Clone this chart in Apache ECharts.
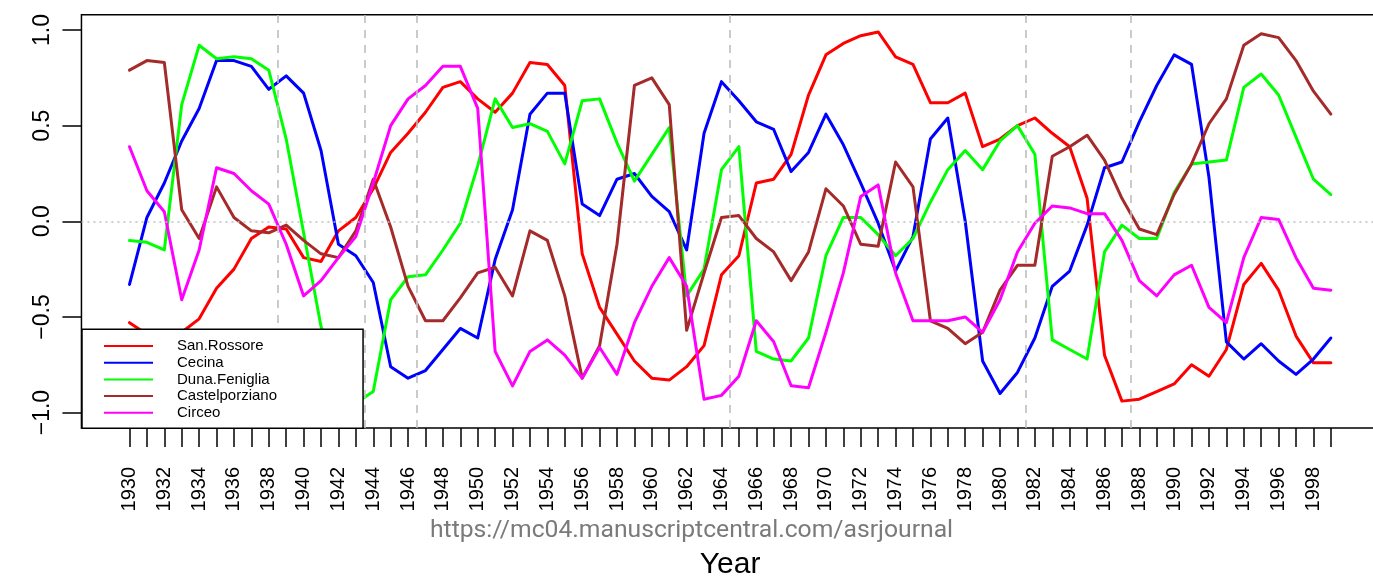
<!DOCTYPE html>
<html><head><meta charset="utf-8">
<script src="https://cdn.jsdelivr.net/npm/echarts@6/dist/echarts.min.js"></script>
<style>html,body{margin:0;padding:0;background:#fff}#c{width:1373px;height:577px}</style>
</head><body><div id="c"></div>
<script>
const years = [1930,1931,1932,1933,1934,1935,1936,1937,1938,1939,1940,1941,1942,1943,1944,1945,1946,1947,1948,1949,
  1950,1951,1952,1953,1954,1955,1956,1957,1958,1959,1960,1961,1962,1963,1964,1965,1966,1967,1968,1969,
  1970,1971,1972,1973,1974,1975,1976,1977,1978,1979,1980,1981,1982,1983,1984,1985,1986,1987,1988,1989,
  1990,1991,1992,1993,1994,1995,1996,1997,1998,1999];
const labelYears = [1930,1932,1934,1936,1938,1940,1942,1944,1946,1948,1950,1952,1954,1956,1958,1960,1962,1964,
  1966,1968,1970,1972,1974,1976,1978,1980,1982,1984,1986,1988,1990,1992,1994,1996,1998];
const yTicks = [-1, -0.5, 0, 0.5, 1];
const regimeShifts = [1938.5, 1943.5, 1946.5, 1964.5, 1981.5, 1987.5];
const seriesNames = ['San.Rossore', 'Cecina', 'Duna.Feniglia', 'Castelporziano', 'Circeo'];
const seriesColors = ['#FF0000', '#0000FF', '#00FF00', '#A52A2A', '#FF00FF'];

const sanRossore = [-0.53,-0.59,-0.62,-0.58,-0.51,-0.35,-0.25,-0.09,-0.03,-0.04,
  -0.19,-0.21,-0.05,0.02,0.17,0.36,0.46,0.57,0.70,0.73,
  0.64,0.57,0.67,0.83,0.82,0.71,-0.17,-0.45,-0.59,-0.73,
  -0.82,-0.83,-0.76,-0.65,-0.28,-0.18,0.20,0.22,0.35,0.66,
  0.87,0.93,0.97,0.99,0.86,0.82,0.62,0.62,0.67,0.39,
  0.43,0.50,0.54,0.46,0.39,0.12,-0.70,-0.94,-0.93,-0.89,
  -0.85,-0.75,-0.81,-0.67,-0.33,-0.22,-0.36,-0.60,-0.74,-0.74];
const cecina = [-0.33,0.02,0.20,0.42,0.59,0.84,0.84,0.81,0.69,0.76,
  0.67,0.37,-0.12,-0.18,-0.32,-0.76,-0.82,-0.78,-0.67,-0.56,
  -0.61,-0.20,0.06,0.56,0.67,0.67,0.09,0.03,0.22,0.25,
  0.13,0.05,-0.15,0.46,0.73,0.63,0.52,0.48,0.26,0.36,
  0.56,0.40,0.20,-0.01,-0.26,-0.08,0.43,0.54,0.00,-0.73,
  -0.90,-0.79,-0.61,-0.34,-0.26,-0.02,0.28,0.31,0.52,0.71,
  0.87,0.82,0.23,-0.63,-0.72,-0.64,-0.73,-0.80,-0.72,-0.61];
const dunaFeniglia = [-0.10,-0.11,-0.15,0.61,0.92,0.85,0.86,0.85,0.79,0.43,
  -0.06,-0.55,-0.80,-0.95,-0.89,-0.41,-0.29,-0.28,-0.15,-0.01,
  0.29,0.64,0.49,0.51,0.47,0.30,0.63,0.64,0.41,0.21,
  0.35,0.49,-0.39,-0.25,0.27,0.39,-0.68,-0.72,-0.73,-0.61,
  -0.18,0.02,0.02,-0.07,-0.18,-0.09,0.10,0.27,0.37,0.27,
  0.42,0.50,0.35,-0.62,-0.67,-0.72,-0.16,-0.02,-0.09,-0.09,
  0.15,0.30,0.31,0.32,0.70,0.77,0.66,0.44,0.22,0.14];
const castelporziano = [0.79,0.84,0.83,0.06,-0.09,0.18,0.02,-0.05,-0.06,-0.02,
  -0.10,-0.17,-0.19,-0.05,0.22,-0.03,-0.34,-0.52,-0.52,-0.40,
  -0.27,-0.24,-0.39,-0.05,-0.10,-0.39,-0.82,-0.65,-0.12,0.71,
  0.75,0.61,-0.57,-0.27,0.02,0.03,-0.09,-0.16,-0.31,-0.16,
  0.17,0.08,-0.12,-0.13,0.31,0.18,-0.52,-0.56,-0.64,-0.58,
  -0.36,-0.23,-0.23,0.34,0.39,0.45,0.32,0.12,-0.04,-0.07,
  0.14,0.30,0.51,0.64,0.92,0.98,0.96,0.84,0.68,0.56];
const circeo = [0.39,0.16,0.05,-0.41,-0.15,0.28,0.25,0.16,0.09,-0.12,
  -0.39,-0.31,-0.19,-0.08,0.20,0.50,0.64,0.71,0.81,0.81,
  0.59,-0.68,-0.86,-0.68,-0.62,-0.70,-0.82,-0.66,-0.80,-0.53,
  -0.34,-0.19,-0.34,-0.93,-0.91,-0.81,-0.52,-0.63,-0.86,-0.87,
  -0.58,-0.27,0.13,0.19,-0.27,-0.52,-0.52,-0.52,-0.50,-0.58,
  -0.41,-0.16,-0.01,0.08,0.07,0.04,0.04,-0.10,-0.31,-0.39,
  -0.28,-0.23,-0.45,-0.53,-0.19,0.02,0.01,-0.19,-0.35,-0.36];
const seriesValues = [sanRossore, cecina, dunaFeniglia, castelporziano, circeo];

const FONT = '"Liberation Sans", Arial, Helvetica, sans-serif';
const chart = echarts.init(document.getElementById('c'), null, {renderer: 'canvas'});

const lineSeries = seriesNames.map((name, s) => ({
  name: name,
  type: 'line',
  data: years.map((y, i) => [y, seriesValues[s][i]]),
  symbol: 'none',
  color: seriesColors[s],
  lineStyle: {color: seriesColors[s], width: 3, cap: 'round', join: 'round'},
  z: 2 + s * 0.01,
  animation: false
}));

lineSeries.push({
  name: 'refLines',
  type: 'line',
  data: [],
  z: 5,
  animation: false,
  markLine: {
    silent: true,
    symbol: ['none', 'none'],
    label: {show: false},
    animation: false,
    data: regimeShifts.map(v => ({xAxis: v, lineStyle: {color: '#BEBEBE', type: [8, 7], width: 1.6}}))
      .concat([{yAxis: 0, lineStyle: {color: '#BEBEBE', type: [2, 4], width: 1.6}}])
  }
});

chart.setOption({
  animation: false,
  backgroundColor: '#ffffff',
  grid: {left: 81.45, right: -5.9, top: 14.7, bottom: 149.1, show: true,
    outerBoundsMode: 'none', containLabel: false,
    borderColor: '#000', borderWidth: 1.5, backgroundColor: 'transparent'},
  xAxis: {
    type: 'value', min: 1927.24, max: 2001.76,
    splitLine: {show: false},
    axisLine: {show: false, onZero: false},
    axisTick: {show: true, customValues: years, length: 19, lineStyle: {color: '#000', width: 1.5}},
    axisLabel: {customValues: labelYears, rotate: 90, margin: 39, fontSize: 20, fontFamily: FONT, color: '#000',
      formatter: v => String(Math.round(v))},
    name: 'Year', nameLocation: 'middle', nameGap: 122,
    nameTextStyle: {fontSize: 30, fontFamily: FONT, color: '#000'}
  },
  yAxis: {
    type: 'value', min: -1.08, max: 1.08,
    splitLine: {show: false},
    axisLine: {show: false, onZero: false},
    axisTick: {show: true, customValues: yTicks, length: 19, lineStyle: {color: '#000', width: 1.5}},
    axisLabel: {customValues: yTicks, rotate: 90, margin: 27, fontSize: 23, fontFamily: FONT, color: '#000',
      formatter: v => (v < 0 ? '\u2212' : '') + Math.abs(v).toFixed(1)}
  },
  legend: {
    data: seriesNames,
    orient: 'vertical', left: 82, top: 329.3,
    itemWidth: 49, itemHeight: 2, itemGap: 0, icon: 'rect',
    padding: [8.4, 86, 7.3, 22],
    backgroundColor: '#fff', borderColor: '#000', borderWidth: 1.5, borderRadius: 0,
    selectedMode: false,
    textStyle: {fontSize: 15, fontFamily: FONT, color: '#000', lineHeight: 16.67, padding: [0, 0, 0, 19]},
    z: 10
  },
  graphic: [{
    type: 'text', left: 430, top: 518, z: 10,
    style: {text: 'https://mc04.manuscriptcentral.com/asrjournal', fontSize: 24.7, fontFamily: 'Roboto, "Open Sans", sans-serif', fill: '#7a7a7a'}
  }],
  series: lineSeries
});
</script>
</body></html>
